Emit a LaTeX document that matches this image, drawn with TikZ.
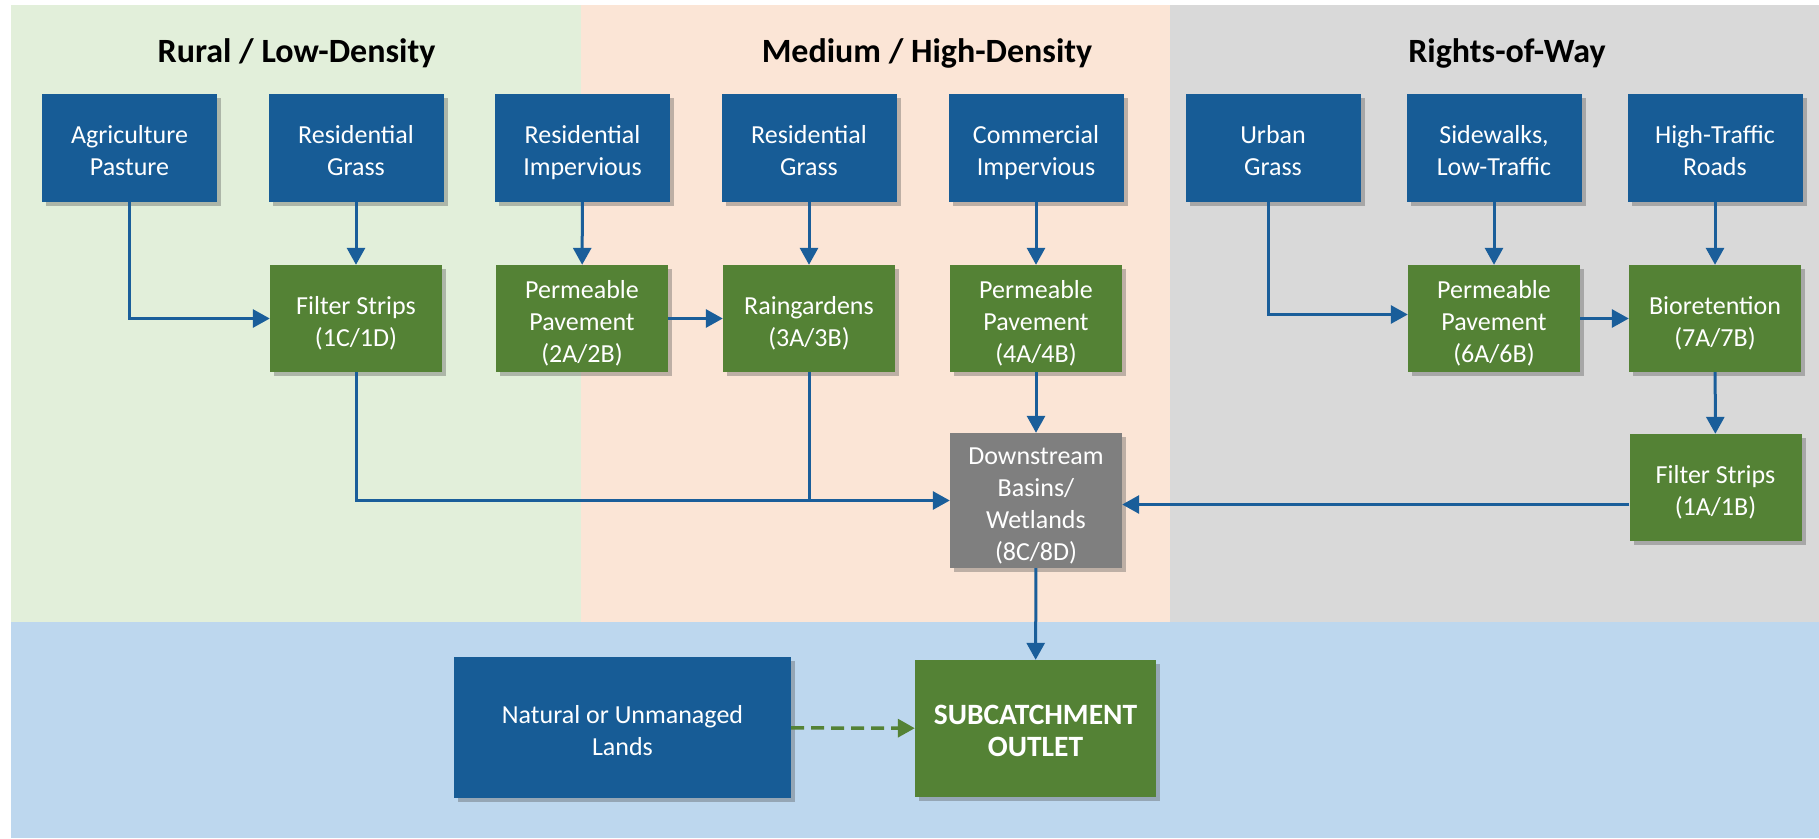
\documentclass[tikz,border=0pt]{standalone}
\usepackage{fontspec}
\setmainfont{Carlito}
\usetikzlibrary{arrows.meta,shadows}
\definecolor{boxblue}{RGB}{23,92,150}
\definecolor{boxgreen}{RGB}{84,130,53}
\definecolor{boxgray}{RGB}{127,127,127}
\definecolor{arrowblue}{RGB}{26,94,154}
\definecolor{bggreen}{RGB}{226,239,218}
\definecolor{bgpeach}{RGB}{251,229,214}
\definecolor{bggray}{RGB}{217,217,217}
\definecolor{bgblue}{RGB}{189,215,238}
\newcommand{\bt}[1]{\raisebox{-5.5pt}[\height][\depth]{\begin{tabular}{@{}c@{}}#1\end{tabular}}}
\tikzset{
  basebox/.style={inner sep=0pt, align=center, text=white,
    font=\fontsize{26}{32}\selectfont,
    drop shadow={shadow xshift=4pt, shadow yshift=-4pt, opacity=0.35, fill=black!70}},
  srcbox/.style={basebox, fill=boxblue, minimum width=175pt, minimum height=108pt},
  bmpbox/.style={basebox, fill=boxgreen, minimum width=172pt, minimum height=107pt},
  title/.style={anchor=base, font=\fontsize{34}{40}\selectfont\bfseries, text=black},
  flow/.style={draw=arrowblue, line width=3pt, -{Triangle[length=17pt,width=18pt]}},
  plain/.style={draw=arrowblue, line width=3pt},
  dflow/.style={draw=boxgreen, line width=3.5pt, dash pattern=on 13pt off 7pt,
    -{Triangle[length=17pt,width=18pt]}},
}
\begin{document}
\begin{tikzpicture}[x=1pt,y=-1pt]
\useasboundingbox (0,0) rectangle (1819,838);
% panels
\fill[bggreen] (11,5) rectangle (581,622);
\fill[bgpeach] (581,5) rectangle (1170,622);
\fill[bggray] (1170,5) rectangle (1819,622);
\fill[bgblue] (11,622) rectangle (1819,838);
% titles
\node[title] (t1) at (296.5,62) {Rural / Low-Density};
\node[title] (t2) at (927,62) {Medium / High-Density};
\node[title] (t3) at (1507,62) {Rights-of-Way};
% top row
\node[srcbox] (agri) at (129.5,148) {\bt{Agriculture\\Pasture}};
\node[srcbox] (rg1) at (356,148) {\bt{Residential\\Grass}};
\node[srcbox] (ri) at (582.5,148) {\bt{Residential\\Impervious}};
\node[srcbox] (rg2) at (809,148) {\bt{Residential\\Grass}};
\node[srcbox] (ci) at (1036,148) {\bt{Commercial\\Impervious}};
\node[srcbox] (ug) at (1273,148) {\bt{Urban\\Grass}};
\node[srcbox] (sw) at (1494,148) {\bt{Sidewalks,\\Low-Traffic}};
\node[srcbox] (ht) at (1715,148) {\bt{High-Traffic\\Roads}};
% second row
\node[bmpbox] (fs1) at (356,318.5) {\bt{Filter Strips\\(1C/1D)}};
\node[bmpbox] (pp2) at (582,318.5) {\bt{Permeable\\Pavement\\(2A/2B)}};
\node[bmpbox] (rain) at (809,318.5) {\bt{Raingardens\\(3A/3B)}};
\node[bmpbox] (pp4) at (1036,318.5) {\bt{Permeable\\Pavement\\(4A/4B)}};
\node[bmpbox] (pp6) at (1494,318.5) {\bt{Permeable\\Pavement\\(6A/6B)}};
\node[bmpbox] (bio) at (1715,318.5) {\bt{Bioretention\\(7A/7B)}};
\node[bmpbox] (fs2) at (1715.5,487.5) {\bt{Filter Strips\\(1A/1B)}};
\node[basebox, fill=boxgray, minimum width=172pt, minimum height=135pt] (ds) at (1036,500.5) {\bt{Downstream\\Basins/\\Wetlands\\(8C/8D)}};
% bottom
\node[basebox, fill=boxblue, minimum width=337pt, minimum height=141pt] (nat) at (622.5,727.5) {\bt{Natural or Unmanaged\\Lands}};
\node[basebox, fill=boxgreen, minimum width=241pt, minimum height=137pt, font=\fontsize{29.5}{32.5}\selectfont\bfseries] (out) at (1035.5,728.5) {\bt{SUBCATCHMENT\\OUTLET}};
% connectors
\draw[flow] (agri.south) |- (fs1.west);
\draw[flow] (rg1) -- (fs1);
\draw[flow] (ri) -- (pp2);
\draw[flow] (pp2) -- (rain);
\draw[flow] (rg2) -- (rain);
\draw[flow] (ci) -- (pp4);
\draw[flow] (pp4) -- (ds);
\draw[flow] (fs1.south) |- (ds.west);
\draw[plain] (rain.south) -- (rain.south |- ds.west);
\draw[flow] ([xshift=-5pt]ug.south) |- ([yshift=4pt]pp6.west);
\draw[flow] (sw) -- (pp6);
\draw[flow] (pp6) -- (bio);
\draw[flow] (ht) -- (bio);
\draw[flow] (bio) -- (fs2);
\draw[flow] ([yshift=-4pt]fs2.west |- ds.east) -- ([yshift=-4pt]ds.east);
\draw[flow] (ds) -- (out);
\draw[dflow] (nat) -- (out);
\end{tikzpicture}
\end{document}
